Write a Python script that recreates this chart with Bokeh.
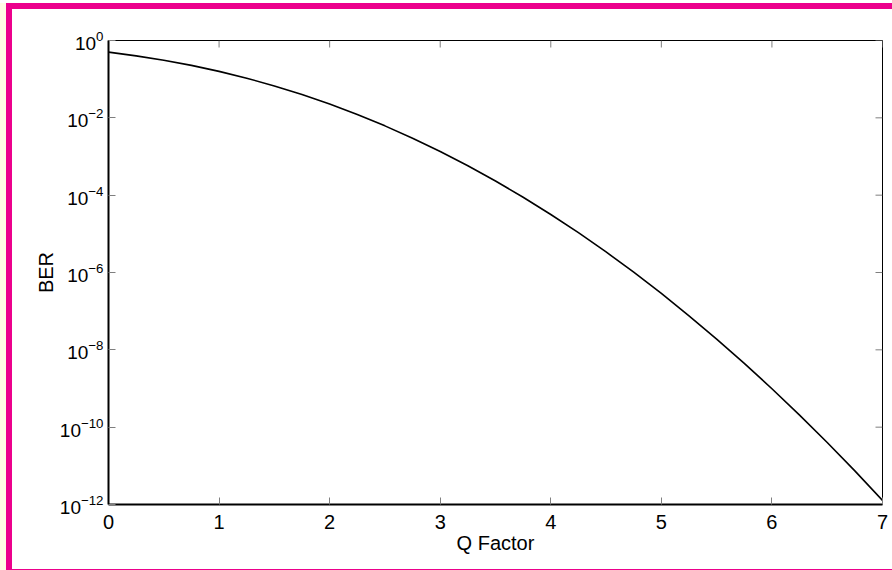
import math
from bokeh.plotting import figure
from bokeh.models import FixedTicker
from bokeh.embed import file_html
from bokeh.resources import INLINE

# Data
q_factor = [0.0, 0.25, 0.5, 0.75, 1.0, 1.25, 1.5, 1.75, 2.0, 2.25, 2.5, 2.75,
            3.0, 3.25, 3.5, 3.75, 4.0, 4.25, 4.5, 4.75, 5.0, 5.25, 5.5, 5.75,
            6.0, 6.25, 6.5, 6.75, 7.0]
ber = [0.5, 0.401, 0.309, 0.227, 0.159, 0.106, 0.0668, 0.0401, 0.0228, 0.0122,
       0.0062, 0.00298, 1.35e-3, 5.77e-4, 2.33e-4, 8.84e-5, 3.17e-5, 1.07e-5,
       3.40e-6, 1.02e-6, 2.87e-7, 7.60e-8, 1.90e-8, 4.46e-9, 9.87e-10,
       2.05e-10, 4.02e-11, 7.4e-12, 1.28e-12]
x_ticks = [0, 1, 2, 3, 4, 5, 6, 7]
y_ticks = [1e0, 1e-2, 1e-4, 1e-6, 1e-8, 1e-10, 1e-12]
x_min, x_max = 0, 7
y_min, y_max = 1e-12, 1e0

FONT = "Liberation Sans"
MAG = "#EC008C"
TICK = "#7f7f7f"

p = figure(width=886, height=567, x_range=(x_min, x_max), y_range=(y_min, y_max),
           y_axis_type="log", output_backend="svg", toolbar_location=None,
           min_border_left=96, min_border_right=16, min_border_top=31,
           min_border_bottom=72)
p.styles = {"position": "relative", "top": "3px", "left": "6px",
            "overflow": "hidden",
            "border-top": f"6px solid {MAG}", "border-left": f"6px solid {MAG}",
            "border-bottom": f"1px solid {MAG}",
            "box-shadow": "-6px 0 0 #FFFDE4"}

p.line(q_factor, ber, line_color="black", line_width=1.6)

# mirrored tick marks on the top and right edges of the box
p.ray(x=x_ticks, y=[y_max] * len(x_ticks), length=7, length_units="screen",
      angle=-math.pi / 2, line_color=TICK, line_width=1)
p.ray(x=[x_max] * len(y_ticks), y=y_ticks, length=7, length_units="screen",
      angle=math.pi, line_color=TICK, line_width=1)

p.grid.visible = False
p.outline_line_color = "black"
p.outline_line_width = 1

p.xaxis.ticker = FixedTicker(ticks=x_ticks, minor_ticks=[])
p.yaxis.ticker = FixedTicker(ticks=y_ticks, minor_ticks=[])
p.xaxis.axis_label = "Q Factor"
p.yaxis.axis_label = "BER"

for ax in (p.xaxis[0], p.yaxis[0]):
    ax.axis_line_color = "black"
    ax.axis_line_width = 2
    ax.major_tick_in = 7
    ax.major_tick_out = 0
    ax.major_tick_line_color = TICK
    ax.minor_tick_line_color = None
    ax.major_label_text_font = FONT
    ax.major_label_text_color = "black"
    ax.axis_label_text_font = FONT
    ax.axis_label_text_font_size = "20px"
    ax.axis_label_text_font_style = "normal"
    ax.axis_label_text_color = "black"

p.xaxis.major_label_text_font_size = "20px"
p.yaxis.major_label_text_font_size = "19px"
p.xaxis.major_label_standoff = 10
p.xaxis.axis_label_standoff = 0
p.yaxis.major_label_standoff = 5
p.yaxis.axis_label_standoff = 0

open("out.html", "w").write(file_html(p, INLINE))
